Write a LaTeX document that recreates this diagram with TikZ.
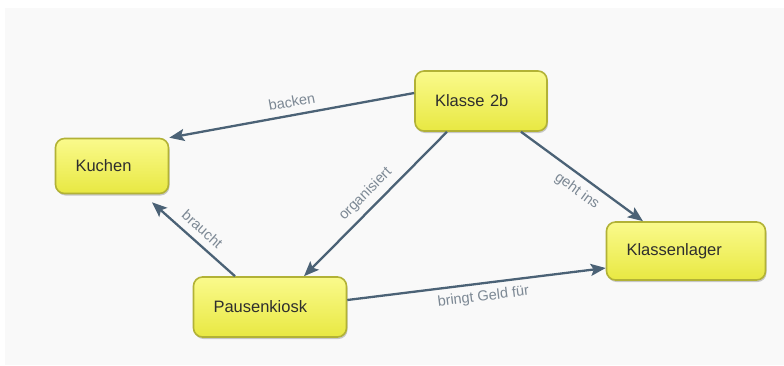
\documentclass[tikz,border=0pt]{standalone}
\usepackage{fontspec}
\setmainfont{Liberation Sans}
\usetikzlibrary{arrows.meta,shadows}
\definecolor{bgc}{HTML}{F9F9F9}
\definecolor{linec}{HTML}{4B6276}
\definecolor{labc}{HTML}{7C8894}
\definecolor{ytop}{HTML}{FAFA8C}
\definecolor{ybot}{HTML}{E8E842}
\definecolor{yborder}{HTML}{B2B236}
\definecolor{ntext}{HTML}{2E2E2E}
\tikzset{
  concept/.style={draw=yborder, line width=1.6pt, rounded corners=9pt,
    top color=ytop, bottom color=ybot, text=ntext,
    font=\fontsize{16.5}{19}\selectfont, align=left,
    inner xsep=20pt, inner ysep=0pt, minimum height=#1,
    drop shadow={shadow xshift=1pt, shadow yshift=-2pt, opacity=0.2, fill=black}},
  link/.style={draw=linec, line width=2.3pt,
    -{Stealth[length=15pt,width=12pt,inset=3pt]}},
  lab/.style={text=labc, font=\fontsize{14.5}{16}\selectfont, sloped, inner sep=0pt}
}
\begin{document}
\begin{tikzpicture}[x=1pt,y=-1pt]
\fill[white] (0,0) rectangle (784,365);
\fill[bgc] (5,8) rectangle (784,365);
\useasboundingbox (0,0) rectangle (784,365);
\node[concept=60pt, text width=92pt] (k2b) at (481,101) {Klasse 2b};
\node[concept=55pt, text width=73pt] (kuchen) at (112,166) {Kuchen};
\node[concept=60pt, text width=113pt] (pk) at (270,307) {Pausenkiosk};
\node[concept=58pt, text width=119pt] (kl) at (686,251) {Klassenlager};
\draw[link] ([yshift=8pt]k2b.west) -- node[lab, pos=0.49, above=7pt] {backen} (kuchen.north east);
\draw[link] ([xshift=-34pt]k2b.south) -- node[lab, pos=0.5, above=6pt] {organisiert} ([xshift=34pt]pk.north);
\draw[link] ([xshift=40pt]k2b.south) -- node[lab, pos=0.53, below=7pt] {geht ins} ([xshift=-43pt]kl.north);
\draw[link] ([xshift=-35pt]pk.north) -- node[lab, pos=0.5, above=7pt] {braucht} ([xshift=40pt,yshift=-8pt]kuchen.south);
\draw[link] ([yshift=7pt]pk.east) -- node[lab, pos=0.52, below=6pt] {bringt Geld für} ([yshift=-17pt]kl.west);
\end{tikzpicture}
\end{document}
